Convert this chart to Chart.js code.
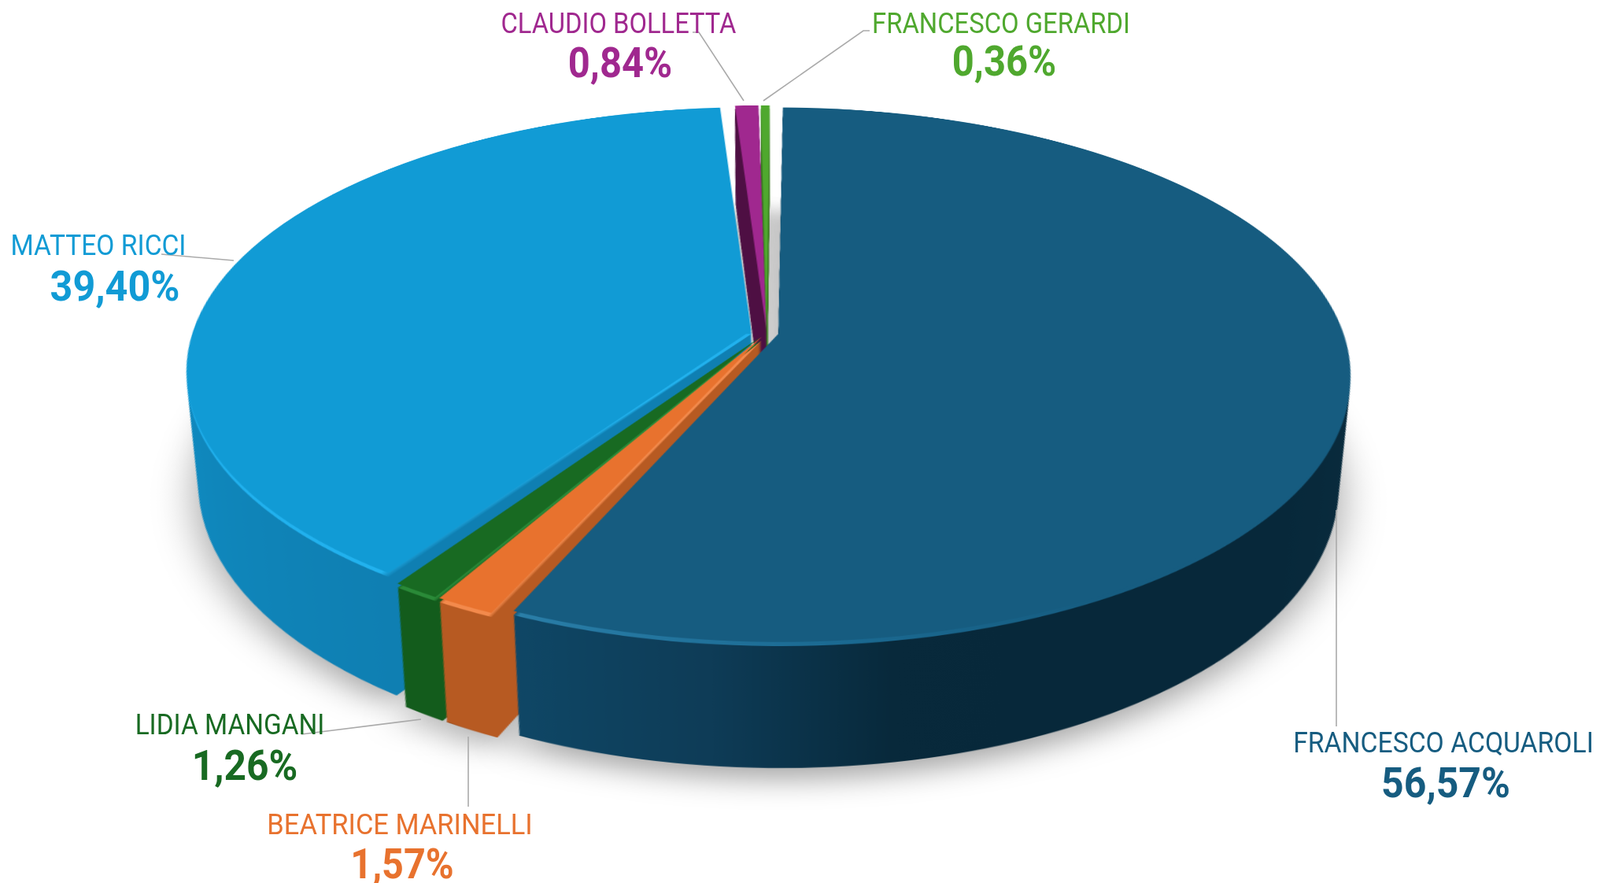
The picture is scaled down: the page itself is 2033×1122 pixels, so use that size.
<!DOCTYPE html>
<html>
<head>
<meta charset="utf-8">
<title>Risultati</title>
<script src="https://cdn.jsdelivr.net/npm/chart.js@4"></script>
<style>
    html, body { margin: 0; padding: 0; background: #fff; overflow: hidden; }
    #stage { position: relative; width: 2033px; height: 1122px; overflow: hidden; }
    #pie { position: absolute; left: 0; top: 0; transform-origin: 0 0; }
    #leaders { position: absolute; left: 0; top: 0; }
    .lab { position: absolute; white-space: nowrap; font-family: Roboto, sans-serif; line-height: 1; }
    .lab.name { font-size: 36px; font-weight: 400; }
    .lab.val { font-size: 53px; font-weight: 700; }
</style>
</head>
<body>
<div id="stage">
    <canvas id="pie"></canvas>
    <svg id="leaders" width="2033" height="1122"></svg>
</div>
<script>
const candidates = ["FRANCESCO ACQUAROLI", "BEATRICE MARINELLI", "LIDIA MANGANI", "MATTEO RICCI", "CLAUDIO BOLLETTA", "FRANCESCO GERARDI"]
const shares = [56.57, 1.57, 1.26, 39.40, 0.84, 0.36]
const shareLabels = ["56,57%", "1,57%", "1,26%", "39,40%", "0,84%", "0,36%"]
const topColors = ["#165c80", "#e8722e", "#186a22", "#119bd5", "#a0288f", "#4fa82e"]
const explode = [46, 40, 40, 60, 30, 30]
const startAngle = 0.5

// [degrees clockwise from 12 o'clock, colour]
const wallStops = [
    [[0, "#0b2c3d"], [90, "#0b2d3f"], [130, "#07283a"], [170, "#08293b"], [186, "#0e3c57"], [204, "#0f4766"]],
    [[203, "#b75a22"], [210, "#b75a22"]],
    [[209, "#135c1c"], [214, "#135c1c"]],
    [[213, "#0f7fb2"], [250, "#0f88bd"], [290, "#1090c8"], [356, "#1090c8"]],
    [[355, "#4e0f43"], [360, "#4e0f43"]],
    [[358, "#3a7a20"], [360, "#3a7a20"]]
]
const rimStops = [
    [[0, "#165c80"], [150, "#165c80"], [175, "#1b6a92"], [203.5, "#2a7ea8"], [204.1, "#0f4766"]],
    [[204.2, "#b75a22"], [204.7, "#f38a4c"], [209.3, "#f38a4c"], [209.8, "#b75a22"]],
    [[209.8, "#135c1c"], [210.3, "#2a8a38"], [213.9, "#2a8a38"], [214.3, "#135c1c"]],
    [[214.35, "#0f7fb2"], [215.5, "#22b2ee"], [270, "#1fb0ee"], [288, "#119bd5"], [356, "#119bd5"]],
    [[355.7, "#4e0f43"], [360, "#4e0f43"]],
    [[358.7, "#3a7a20"], [360, "#3a7a20"]]
]

// label boxes: centre x, centre y, width
const namePos = [[1834, 944, 382], [508, 1048, 337], [292, 921, 241], [125, 312, 223], [786, 30, 299], [1272, 30, 328]]
const valPos = [[1837, 995, 164], [511, 1098, 131], [311, 973, 134], [146, 364, 165], [788, 80, 132], [1276, 78, 132]]
const leaderLines = [
    [[1698, 648], [1698, 923]],
    [[595, 936], [595, 1025]],
    [[383, 933], [535, 914]],
    [[205, 323], [297, 331]],
    [[880, 41], [888, 41], [945, 128]],
    [[1105, 39], [1097, 39], [970, 128]]
]

// camera: where the disc centre lands and how the disc is foreshortened
const centreX = 974, centreY = 422.5
const scaleU = 702, scaleV = 324, tilt = 0.15
// the base of the disc, expressed in the plane of the top face
const baseShift = 0.405, baseV = 0.93, baseU = 0.92
const rimAt = 0.035
const layers = 160
const R = 520

function conic(ctx, arc, stops) {
    let g = ctx.createConicGradient(-Math.PI / 2, arc.x, arc.y)
    stops.forEach(s => g.addColorStop(s[0] / 360, s[1]))
    return g
}

function drawLayer(ctx, meta, t, colours) {
    let shift = baseShift * t * R
    let su = 1 + (baseU - 1) * t
    let sv = 1 + (baseV - 1) * t
    meta.data.forEach((arc, i) => {
        let saved = arc.options
        arc.options = Object.assign({}, saved, { backgroundColor: conic(ctx, arc, colours[i]), borderWidth: 0 })
        ctx.save()
        ctx.translate(arc.x, arc.y + shift)
        ctx.scale(su, sv)
        ctx.translate(-arc.x, -arc.y)
        arc.draw(ctx)
        ctx.restore()
        arc.options = saved
    })
}

const extrude = {
    id: 'extrude',
    beforeDatasetsDraw(chart) {
        let ctx = chart.ctx
        let meta = chart.getDatasetMeta(0)
        ctx.save()
        ctx.shadowColor = 'rgba(0,0,0,0.35)'
        ctx.shadowBlur = 70
        ctx.shadowOffsetY = 30
        drawLayer(ctx, meta, 1, wallStops)
        ctx.restore()
        for (let n = layers - 1; n > 0; n--) {
            let t = n / layers
            if (t <= rimAt) break
            drawLayer(ctx, meta, t, wallStops)
        }
        drawLayer(ctx, meta, rimAt, rimStops)
    }
}

const canvas = document.getElementById('pie')
canvas.width = 1600
canvas.height = 1600
const chart = new Chart(canvas, {
    type: 'pie',
    data: {
        labels: candidates,
        datasets: [{ data: shares, backgroundColor: topColors, borderWidth: 0, offset: explode }]
    },
    options: {
        responsive: false,
        animation: false,
        devicePixelRatio: 2,
        radius: R,
        rotation: startAngle,
        events: [],
        plugins: { legend: { display: false }, tooltip: { enabled: false } }
    },
    plugins: [extrude]
})

// project the flat disc with a true perspective, so the centre sits above the middle of the ellipse
const first = chart.getDatasetMeta(0).data[0]
const s = tilt / first.outerRadius
const w0 = 1 + s * first.y
const A = scaleU / first.outerRadius
const E = scaleV / first.outerRadius
canvas.style.transform = 'matrix3d(' + [
    A, 0, 0, 0,
    -centreX * s, E - centreY * s, 0, -s,
    0, 0, 1, 0,
    -A * first.x + centreX * w0, -E * first.y + centreY * w0, 0, w0
].join(',') + ')'

const stage = document.getElementById('stage')
function addLabel(text, cls, pos, colour) {
    let d = document.createElement('div')
    d.className = 'lab ' + cls
    d.textContent = text
    d.style.color = colour
    d.style.left = pos[0] + 'px'
    d.style.top = pos[1] + 'px'
    stage.appendChild(d)
    // the original face is narrower than Roboto, squeeze to the measured width
    let k = pos[2] / d.offsetWidth
    d.style.transform = 'translate(-50%,-50%) scaleX(' + k + ')'
}
candidates.forEach((c, i) => {
    addLabel(c, 'name', namePos[i], topColors[i])
    addLabel(shareLabels[i], 'val', valPos[i], topColors[i])
})

const svg = document.getElementById('leaders')
leaderLines.forEach(pts => {
    let l = document.createElementNS('http://www.w3.org/2000/svg', 'polyline')
    l.setAttribute('points', pts.map(p => p.join(',')).join(' '))
    l.setAttribute('fill', 'none')
    l.setAttribute('stroke', '#aaaaaa')
    l.setAttribute('stroke-width', '1.6')
    svg.appendChild(l)
})
</script>
</body>
</html>
